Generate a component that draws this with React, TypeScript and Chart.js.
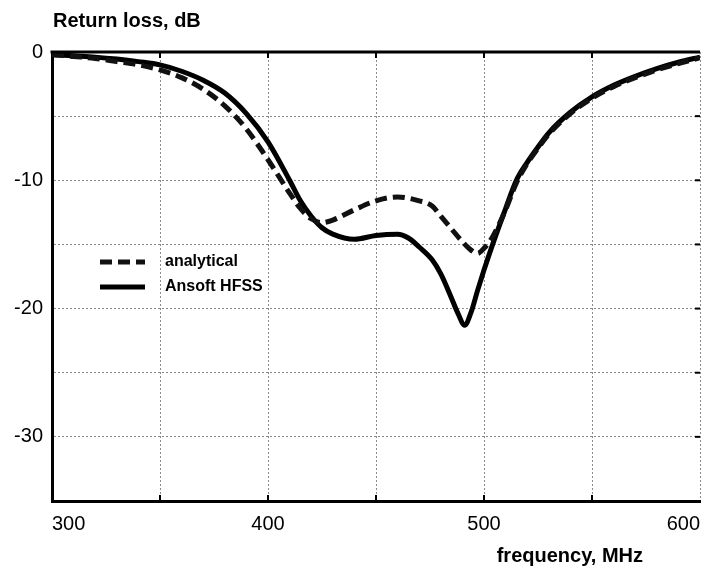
import React, { useEffect, useRef } from "react";
import { Chart, registerables } from "chart.js";

Chart.register(...registerables);

const hfssFreq = [300, 310, 320, 330, 340, 350, 360, 370, 380, 390, 400, 410, 415, 420, 425, 430, 440, 450, 460, 465, 470, 476, 480, 484, 488, 491, 494, 497, 500, 504, 510, 515, 520, 525, 530, 540, 550, 560, 570, 580, 590, 600];
const hfssLoss = [-0.2, -0.3, -0.4, -0.55, -0.75, -1.0, -1.5, -2.2, -3.2, -4.8, -7.0, -10.0, -11.6, -12.8, -13.7, -14.2, -14.6, -14.3, -14.2, -14.5, -15.2, -16.2, -17.3, -18.8, -20.4, -21.3, -20.3, -18.6, -17.0, -15.0, -12.2, -10.0, -8.6, -7.4, -6.3, -4.7, -3.5, -2.6, -1.9, -1.3, -0.8, -0.4];

const analyticalFreq = [300, 310, 320, 330, 340, 350, 360, 370, 380, 390, 400, 410, 415, 420, 425, 430, 440, 450, 460, 470, 476, 480, 485, 489, 493, 497, 500, 504, 510, 515, 520, 525, 530, 540, 550, 560, 570, 580, 590, 600];
const analyticalLoss = [-0.2, -0.35, -0.5, -0.75, -1.0, -1.4, -2.0, -2.9, -4.2, -6.0, -8.4, -11.0, -12.2, -13.0, -13.3, -13.1, -12.3, -11.6, -11.3, -11.6, -12.0, -12.8, -13.8, -14.6, -15.3, -15.7, -15.3, -14.4, -12.3, -10.2, -8.7, -7.5, -6.4, -4.8, -3.6, -2.7, -2.0, -1.4, -0.9, -0.45];

const seriesLabels = ["analytical", "Ansoft HFSS"];
const yTitle = "Return loss, dB";
const xTitle = "frequency, MHz";
const xMin = 300, xMax = 600, xStep = 50, xLabelStep = 100;
const yMin = -35, yMax = 0, yStep = 5, yLabelStep = 10;

const FONT = "'Liberation Sans', Arial, Helvetica, sans-serif";

const decorPlugin = {
  id: "decor",
  afterDraw(chart: any) {
    const { ctx, chartArea, scales } = chart;
    const { left, right, top, bottom } = chartArea;
    ctx.save();
    // top border
    ctx.strokeStyle = "#000";
    ctx.lineWidth = 3;
    ctx.setLineDash([]);
    ctx.beginPath();
    ctx.moveTo(left - 1.5, top);
    ctx.lineTo(right, top);
    ctx.stroke();
    // inner tick marks
    ctx.lineWidth = 2;
    scales.x.ticks.forEach((t: any) => {
      const px = scales.x.getPixelForValue(t.value);
      if (px <= left + 2 || px >= right - 2) return;
      ctx.beginPath();
      ctx.moveTo(px, top);
      ctx.lineTo(px, top + 6);
      ctx.moveTo(px, bottom);
      ctx.lineTo(px, bottom - 6);
      ctx.stroke();
    });
    scales.y.ticks.forEach((t: any) => {
      const py = scales.y.getPixelForValue(t.value);
      if (py <= top + 2 || py >= bottom - 2) return;
      ctx.beginPath();
      ctx.moveTo(right, py);
      ctx.lineTo(right - 5, py);
      ctx.stroke();
    });
    // titles
    ctx.fillStyle = "#000";
    ctx.font = `bold 20px ${FONT}`;
    ctx.textAlign = "left";
    ctx.textBaseline = "top";
    ctx.fillText(yTitle, left + 1, 11);
    ctx.textAlign = "right";
    ctx.textBaseline = "alphabetic";
    ctx.fillText(xTitle, 643, 562);
    // legend
    const entries = chart.data.datasets;
    const ys = [262, 287];
    entries.forEach((ds: any, i: number) => {
      const y = ys[i];
      ctx.strokeStyle = ds.borderColor;
      ctx.lineWidth = ds.borderWidth;
      ctx.setLineDash(ds.borderDash || []);
      ctx.lineCap = "butt";
      ctx.beginPath();
      ctx.moveTo(100, y);
      ctx.lineTo(145, y);
      ctx.stroke();
      ctx.setLineDash([]);
      ctx.fillStyle = "#000";
      ctx.font = `bold 16px ${FONT}`;
      ctx.textAlign = "left";
      ctx.textBaseline = "middle";
      ctx.fillText(ds.label, 165, y);
    });
    ctx.restore();
  },
};

export default function App() {
  const ref = useRef<HTMLCanvasElement | null>(null);
  useEffect(() => {
    document.body.style.margin = "0";
    if (!ref.current) return;
    const chart = new Chart(ref.current, {
      type: "line",
      data: {
        datasets: [
          {
            label: seriesLabels[0],
            data: analyticalFreq.map((f, i) => ({ x: f, y: analyticalLoss[i] })),
            borderColor: "#111",
            borderWidth: 5,
            borderDash: [12, 6],
            pointRadius: 0,
            cubicInterpolationMode: "monotone",
            fill: false,
          },
          {
            label: seriesLabels[1],
            data: hfssFreq.map((f, i) => ({ x: f, y: hfssLoss[i] })),
            borderColor: "#000",
            borderWidth: 5,
            pointRadius: 0,
            cubicInterpolationMode: "monotone",
            fill: false,
          },
        ],
      },
      options: {
        animation: false,
        responsive: false,
        maintainAspectRatio: false,
        layout: { padding: { top: 52, right: 1, left: 0, bottom: 0 } },
        plugins: { legend: { display: false }, tooltip: { enabled: false }, title: { display: false } },
        scales: {
          x: {
            type: "linear",
            min: xMin,
            max: xMax,
            ticks: {
              stepSize: xStep,
              align: "inner",
              padding: 11,
              color: "#000",
              font: { family: FONT, size: 20 },
              maxRotation: 0,
              autoSkip: false,
              callback: (v: any) => (Number(v) % xLabelStep === 0 ? String(v) : ""),
            },
            grid: { color: "#8a8a8a", lineWidth: 1, drawTicks: false },
            border: { display: true, color: "#000", width: 3, dash: [2, 2] },
            afterFit: (s: any) => {
              s.height = 71;
              s.paddingLeft = 0;
              s.paddingRight = 0;
            },
          },
          y: {
            type: "linear",
            min: yMin,
            max: yMax,
            ticks: {
              stepSize: yStep,
              padding: 9,
              color: "#000",
              font: { family: FONT, size: 20 },
              autoSkip: false,
              callback: (v: any) => (Number(v) % yLabelStep === 0 ? String(v) : ""),
            },
            grid: { color: "#8a8a8a", lineWidth: 1, drawTicks: false },
            border: { display: true, color: "#000", width: 3, dash: [2, 2] },
            afterFit: (s: any) => {
              s.width = 52;
              s.paddingTop = 0;
              s.paddingBottom = 0;
            },
          },
        },
      } as any,
      plugins: [decorPlugin],
    });
    return () => chart.destroy();
  }, []);
  return (
    <div style={{ position: "absolute", left: 0, top: 0, width: 701, height: 572, background: "#fff" }}>
      <canvas ref={ref} width={701} height={572} style={{ display: "block" }} />
    </div>
  );
}
